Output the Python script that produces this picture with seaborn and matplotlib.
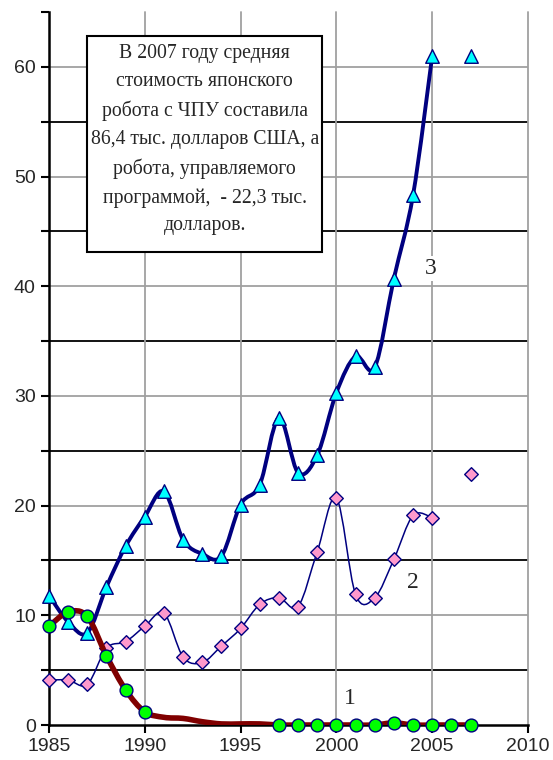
import numpy as np
import pandas as pd
import matplotlib
matplotlib.use('Agg')
import matplotlib.pyplot as plt
from matplotlib.path import Path
from matplotlib.patches import PathPatch, Rectangle
import seaborn as sns

years = list(range(1985, 2008))

# series 1 (green circles), line runs through every year, markers missing 1991-1996
s1 = [9.0, 10.3, 9.9, 6.3, 3.2, 1.2, 0.7, 0.6, 0.3, 0.1, 0.1, 0.1,
      0.0, 0.0, 0.0, 0.0, 0.0, 0.0, 0.2, 0.0, 0.0, 0.0, 0.0]
s1_no_marker = [1991, 1992, 1993, 1994, 1995, 1996]

# series 2 (pink diamonds), 2006 missing
s2 = [4.1, 4.1, 3.7, 7.0, 7.6, 9.0, 10.2, 6.2, 5.7, 7.2, 8.8, 11.0,
      11.6, 10.8, 15.8, 20.7, 11.9, 11.6, 15.1, 19.1, 18.9, np.nan, 22.9]

# series 3 (cyan triangles), 2006 missing
s3 = [11.8, 9.4, 8.4, 12.6, 16.3, 19.0, 21.3, 16.9, 15.6, 15.4, 20.1, 21.9,
      28.0, 23.0, 24.6, 30.3, 33.6, 32.6, 40.7, 48.3, 61.0, np.nan, 61.0]

box_text = ('В 2007 году средняя\nстоимость японского\nробота с ЧПУ составила\n'
            '86,4 тыс. долларов США, а\nробота, управляемого\n'
            'программой,  - 22,3 тыс.\nдолларов.')

df = pd.DataFrame({'year': years, 's1': s1, 's2': s2, 's3': s3})


def smooth_patch(xs, ys, color, lw, z):
    # Excel-like smoothed line: cubic bezier segments between consecutive points
    xs = np.asarray(xs, float)
    ys = np.asarray(ys, float)
    n = len(xs)
    verts = [(xs[0], ys[0])]
    codes = [Path.MOVETO]
    for i in range(n - 1):
        a = max(i - 1, 0)
        d = min(i + 2, n - 1)
        c1 = (xs[i] + (xs[i + 1] - xs[a]) / 6, ys[i] + (ys[i + 1] - ys[a]) / 6)
        c2 = (xs[i + 1] - (xs[d] - xs[i]) / 6, ys[i + 1] - (ys[d] - ys[i]) / 6)
        verts += [c1, c2, (xs[i + 1], ys[i + 1])]
        codes += [Path.CURVE4] * 3
    return PathPatch(Path(verts, codes), facecolor='none', edgecolor=color,
                     lw=lw, zorder=z, capstyle='round', joinstyle='round')


sns.set_style('white')
plt.rcParams['font.family'] = ['Liberation Sans', 'DejaVu Sans']

fig = plt.figure(figsize=(5.53, 7.6), dpi=100)
ax = fig.add_axes([49 / 553, 35 / 760, 479 / 553, 713 / 760])
ax.set_xlim(1985, 2010)
ax.set_ylim(0, 65)

# grid
for v in range(5, 60, 10):
    ax.axhline(v, color='black', lw=1.3, zorder=1)
for v in range(10, 70, 10):
    ax.axhline(v, color='#a0a0a0', lw=1.3, zorder=1)
for v in range(1990, 2015, 5):
    ax.axvline(v, color='#a0a0a0', lw=1.3, zorder=1, clip_on=False)

# series 3
seg3 = df[df['year'] <= 2005]
ax.add_patch(smooth_patch(seg3['year'], seg3['s3'], '#000080', 2.8, 3))
sns.scatterplot(data=df, x='year', y='s3', marker='^', s=95, color='#00ffff',
                edgecolor='#000080', linewidth=1.0, zorder=4, ax=ax, clip_on=False)

# series 2
seg2 = df[df['year'] <= 2005]
ax.add_patch(smooth_patch(seg2['year'], seg2['s2'], '#000080', 1.1, 5))
sns.scatterplot(data=df, x='year', y='s2', marker='D', s=48, color='#ff99cc',
                edgecolor='#000080', linewidth=1.0, zorder=6, ax=ax, clip_on=False)

# series 1
ax.add_patch(smooth_patch(df['year'], df['s1'], '#800000', 4.0, 7))
m1 = df[~df['year'].isin(s1_no_marker)]
sns.scatterplot(data=m1, x='year', y='s1', marker='o', s=85, color='#00ff00',
                edgecolor='#000080', linewidth=1.0, zorder=8, ax=ax, clip_on=False)

# curve labels
lab = dict(fontsize=17, family=['Liberation Serif', 'DejaVu Serif'], ha='center',
           va='center', zorder=9,
           bbox=dict(facecolor='white', edgecolor='none', pad=1.5))
ax.text(2000.7, 2.4, '1', **lab)
ax.text(2004.0, 13.0, '2', **lab)
ax.text(2004.9, 41.6, '3', **lab)

# info box
ax.add_patch(Rectangle((0.079, 0.663), 0.491, 0.303, transform=ax.transAxes,
                       facecolor='white', edgecolor='black', lw=1.5, zorder=10))
ax.text(0.325, 0.821, box_text, transform=ax.transAxes, ha='center', va='center',
        fontsize=14.2, family=['Liberation Serif', 'DejaVu Serif'],
        linespacing=1.63, zorder=11)

# axes
ax.set_xlabel('')
ax.set_ylabel('')
ax.set_xticks(range(1985, 2015, 5))
ax.set_yticks(range(0, 70, 10))
ax.set_yticks(range(5, 70, 10), minor=True)
ax.tick_params(axis='both', which='both', direction='out', length=6, width=1.5,
               color='black', labelsize=14, bottom=True, left=True)
for side in ['top', 'right']:
    ax.spines[side].set_visible(False)
for side in ['left', 'bottom']:
    ax.spines[side].set_color('black')
    ax.spines[side].set_linewidth(1.8)
    ax.spines[side].set_zorder(2)

fig.savefig('out.png', dpi=100)
